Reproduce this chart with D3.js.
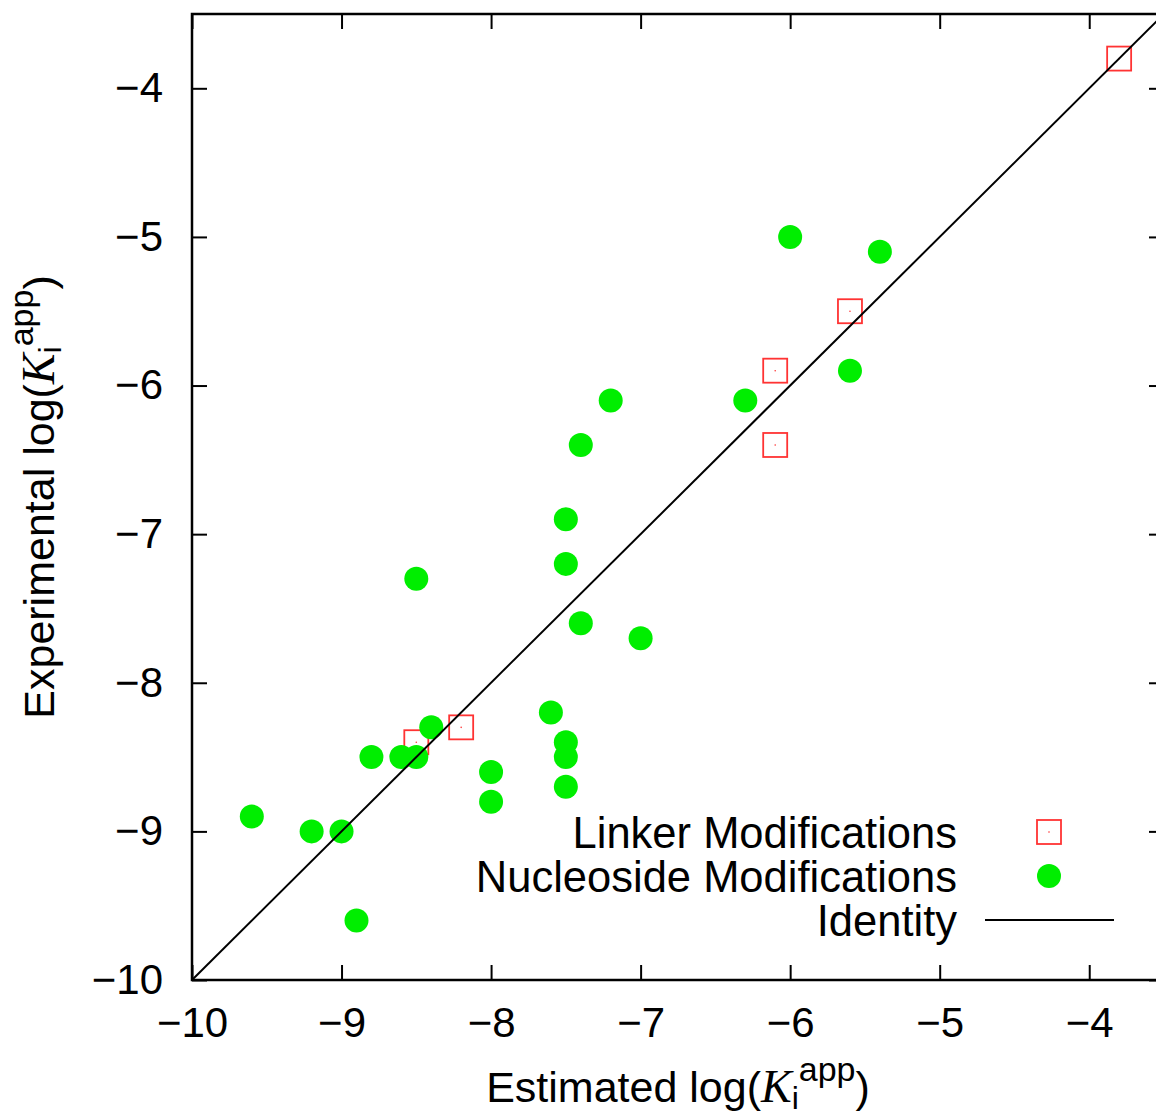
<!DOCTYPE html>
<html>
<head>
<meta charset="utf-8">
<script src="https://cdn.jsdelivr.net/npm/d3@7"></script>
<style>
    body { margin: 0; background: #fff; }
    svg { display: block; font-family: "Liberation Sans", Arial, Helvetica, sans-serif; }
    .axis text { font-size: 42px; fill: #000; }
    .axis line { stroke: #000; stroke-width: 2px; }
    .axis path { display: none; }
</style>
</head>
<body>
<div id="chart"></div>
<script>
// Estimated vs experimental log(Ki app)

// Linker modifications (red squares)
var linkerEst = [-3.8, -5.6, -6.1, -6.1, -8.5, -8.2];
var linkerExp = [-3.8, -5.5, -5.9, -6.4, -8.4, -8.3];

// Nucleoside modifications (green circles)
var nucEst = [-6.0, -5.4, -5.6, -6.3, -7.2, -7.4, -7.5, -7.5, -8.5, -7.4, -7.0, -7.6,
              -7.5, -7.5, -7.5, -8.0, -8.0, -8.4, -8.5, -8.6, -8.8, -9.6, -9.2, -9.0, -8.9];
var nucExp = [-5.0, -5.1, -5.9, -6.1, -6.1, -6.4, -6.9, -7.2, -7.3, -7.6, -7.7, -8.2,
              -8.4, -8.5, -8.7, -8.6, -8.8, -8.3, -8.5, -8.5, -8.5, -8.9, -9.0, -9.0, -9.6];

// Identity line end points
var identity = [-10, -3.5];

var tickValues = [-10, -9, -8, -7, -6, -5, -4];
var legendLabels = ["Linker Modifications", "Nucleoside Modifications", "Identity"];

var width = 1156, height = 1116;
var margin = { left: 192, top: 14, right: 1164, bottom: 980 };

var svg = d3.select("#chart")
    .append("svg")
    .attr("width", width)
    .attr("height", height);

var x = d3.scaleLinear().domain([-10, -3.5]).range([margin.left, margin.right]);
var y = d3.scaleLinear().domain([-10, -3.5]).range([margin.bottom, margin.top]);

var fmt = d3.format("d");

// Axes: ticks point inwards on all four sides
svg.append("g")
    .attr("class", "axis")
    .attr("transform", "translate(0," + margin.bottom + ")")
    .call(d3.axisBottom(x).tickValues(tickValues).tickFormat(fmt)
        .tickSize(-15).tickSizeOuter(0).tickPadding(27));

svg.append("g")
    .attr("class", "axis")
    .attr("transform", "translate(" + margin.left + ",0)")
    .call(d3.axisLeft(y).tickValues(tickValues).tickFormat(fmt)
        .tickSize(-15).tickSizeOuter(0).tickPadding(29));

svg.append("g")
    .attr("class", "axis")
    .attr("transform", "translate(0," + margin.top + ")")
    .call(d3.axisTop(x).tickValues(tickValues).tickSize(-15).tickSizeOuter(0).tickFormat(""));

svg.append("g")
    .attr("class", "axis")
    .attr("transform", "translate(" + margin.right + ",0)")
    .call(d3.axisRight(y).tickValues(tickValues).tickSize(-15).tickSizeOuter(0).tickFormat(""));

// Frame
svg.append("rect")
    .attr("x", margin.left)
    .attr("y", margin.top)
    .attr("width", margin.right - margin.left)
    .attr("height", margin.bottom - margin.top)
    .attr("fill", "none")
    .attr("stroke", "#000")
    .attr("stroke-width", 2.5);

var sq = 24;
var red = "#ff3333";
var green = "#00ee00";

// Linker squares
var linker = svg.append("g").selectAll("g")
    .data(d3.range(linkerEst.length))
    .enter()
    .append("g");

linker.append("rect")
    .attr("x", function(i) { return x(linkerEst[i]) - sq / 2; })
    .attr("y", function(i) { return y(linkerExp[i]) - sq / 2; })
    .attr("width", sq)
    .attr("height", sq)
    .attr("fill", "none")
    .attr("stroke", red)
    .attr("stroke-width", 1.8);

linker.append("circle")
    .attr("cx", function(i) { return x(linkerEst[i]); })
    .attr("cy", function(i) { return y(linkerExp[i]); })
    .attr("r", 0.8)
    .attr("fill", red);

// Nucleoside circles
svg.append("g").selectAll("circle")
    .data(d3.range(nucEst.length))
    .enter()
    .append("circle")
    .attr("cx", function(i) { return x(nucEst[i]); })
    .attr("cy", function(i) { return y(nucExp[i]); })
    .attr("r", 12)
    .attr("fill", green);

// Identity line
svg.append("line")
    .attr("x1", x(identity[0]))
    .attr("y1", y(identity[0]))
    .attr("x2", x(identity[1]))
    .attr("y2", y(identity[1]))
    .attr("stroke", "#000")
    .attr("stroke-width", 2);

// Legend
var legendRight = 957, legendTop = 832, legendStep = 44, symX = 1049;

legendLabels.forEach(function(label, i) {
    svg.append("text")
        .attr("x", legendRight)
        .attr("y", legendTop + i * legendStep)
        .attr("dy", "0.36em")
        .attr("text-anchor", "end")
        .attr("font-size", 43.5)
        .text(label);
});

svg.append("rect")
    .attr("x", symX - sq / 2)
    .attr("y", legendTop - sq / 2)
    .attr("width", sq)
    .attr("height", sq)
    .attr("fill", "none")
    .attr("stroke", red)
    .attr("stroke-width", 1.8);
svg.append("circle")
    .attr("cx", symX).attr("cy", legendTop).attr("r", 0.8).attr("fill", red);

svg.append("circle")
    .attr("cx", symX)
    .attr("cy", legendTop + legendStep)
    .attr("r", 12)
    .attr("fill", green);

svg.append("line")
    .attr("x1", 985)
    .attr("x2", 1114)
    .attr("y1", legendTop + 2 * legendStep)
    .attr("y2", legendTop + 2 * legendStep)
    .attr("stroke", "#000")
    .attr("stroke-width", 2);

// Axis titles with K_i^app
function kTitle(sel, prefix) {
    sel.attr("font-size", 43);
    sel.append("tspan").text(prefix + " log(");
    sel.append("tspan")
        .attr("font-family", "'Liberation Serif', 'Times New Roman', serif")
        .attr("font-style", "italic")
        .attr("font-size", 46)
        .text("K");
    sel.append("tspan").attr("font-size", 32).attr("dy", 7).text("i");
    sel.append("tspan").attr("font-size", 34).attr("dy", -28).text("app");
    sel.append("tspan").attr("dy", 21).text(")");
}

svg.append("text")
    .attr("x", 678)
    .attr("y", 1102)
    .attr("text-anchor", "middle")
    .call(kTitle, "Estimated");

svg.append("text")
    .attr("transform", "translate(54,497) rotate(-90)")
    .attr("text-anchor", "middle")
    .call(kTitle, "Experimental");
</script>
</body>
</html>
